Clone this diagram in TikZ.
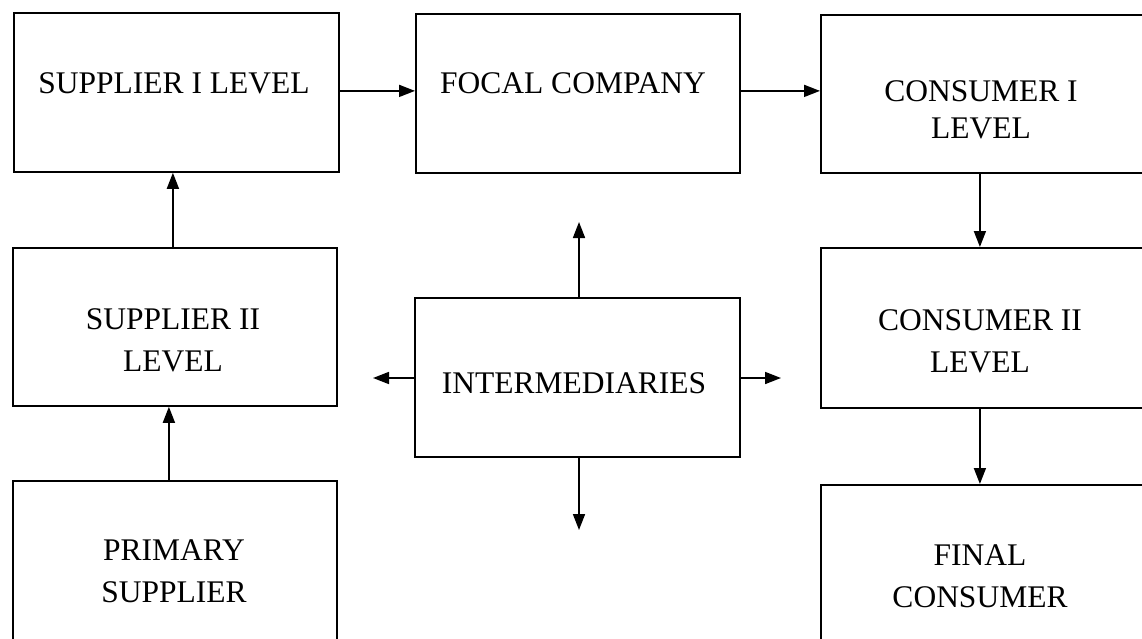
\documentclass[tikz,border=0pt]{standalone}
\usepackage{fontspec}
\setmainfont{Liberation Serif}
\usetikzlibrary{arrows.meta,calc}
\begin{document}
\begin{tikzpicture}[x=1pt,y=-1pt,
  box/.style={draw,line width=1.8pt,rectangle,inner sep=0pt,anchor=north west},
  lbl/.style={inner sep=0pt,align=center,font=\fontsize{31.5}{42}\selectfont},
  arr/.style={line width=1.7pt,-{Triangle[length=16pt,width=12pt]}}]
\useasboundingbox (0,0) rectangle (1142,639);
\clip (0,0) rectangle (1142,639);

% boxes
\node[box,minimum width=325pt,minimum height=159pt] (s1) at (13,12) {};
\node[box,minimum width=324pt,minimum height=159pt] (fc) at (415,13) {};
\node[box,minimum width=330pt,minimum height=158pt] (c1) at (820,14) {};
\node[box,minimum width=324pt,minimum height=158pt] (s2) at (12,247) {};
\node[box,minimum width=325pt,minimum height=159pt] (int) at (414,297) {};
\node[box,minimum width=330pt,minimum height=160pt] (c2) at (820,247) {};
\node[box,minimum width=324pt,minimum height=180pt] (ps) at (12,480) {};
\node[box,minimum width=330pt,minimum height=180pt] (fin) at (820,484) {};

% labels
\node[lbl] (s1t) at (174,83) {SUPPLIER I LEVEL};
\node[lbl] (fct) at (573,83) {FOCAL COMPANY};
\node[lbl,font=\fontsize{31.5}{37}\selectfont] (c1t) at (981,110) {CONSUMER I\\LEVEL};
\node[lbl] (s2t) at (173,340.5) {SUPPLIER II\\LEVEL};
\node[lbl] (intt) at (574,383) {INTERMEDIARIES};
\node[lbl] (c2t) at (980,341.5) {CONSUMER II\\LEVEL};
\node[lbl] (pst) at (174,571.5) {PRIMARY\\SUPPLIER};
\node[lbl] (fint) at (980,576.5) {FINAL\\CONSUMER};

% free ends of the intermediaries' arrows
\coordinate (iu) at (579,222);
\coordinate (id) at (579,530);
\coordinate (il) at (373,378);
\coordinate (ir) at (781,378);

% connectors
\draw[arr] ([yshift=1.5pt]s1.east) -- ([yshift=1.5pt]s1.east -| fc.west);
\draw[arr] ([yshift=2.5pt]fc.east) -- ([yshift=2.5pt]fc.east -| c1.west);
\draw[arr] ([xshift=-2pt]s2.north) -- ([xshift=-2pt]s2.north |- s1.south);
\draw[arr] ([xshift=-6pt]ps.north) -- ([xshift=-6pt]ps.north |- s2.south);
\draw[arr] ([xshift=-6pt]c1.south) -- ([xshift=-6pt]c1.south |- c2.north);
\draw[arr] ([xshift=-6pt]c2.south) -- ([xshift=-6pt]c2.south |- fin.north);
\draw[arr] (int.north -| iu) -- (iu);
\draw[arr] (int.south -| id) -- (id);
\draw[arr] (int.west |- il) -- (il);
\draw[arr] (int.east |- ir) -- (ir);
\end{tikzpicture}
\end{document}
